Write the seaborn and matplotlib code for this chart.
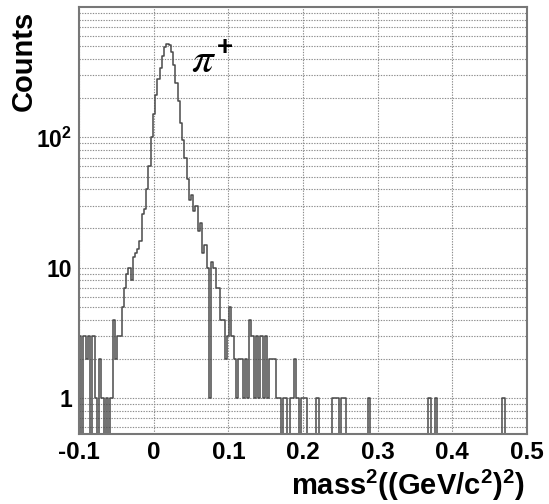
import numpy as np
import pandas as pd
import matplotlib
matplotlib.use("Agg")
import matplotlib.pyplot as plt
import seaborn as sns
from matplotlib.ticker import LogLocator, MultipleLocator, NullFormatter, FixedLocator, FixedFormatter

# ---------------- data ----------------
x_min, x_max, n_bins = -0.1, 0.5, 200
counts = [
    3, 0, 3, 2, 3, 0, 3, 1, 0, 2,
    1, 0, 1, 0, 1, 4, 2, 3, 3, 5,
    7, 9, 10, 8, 12, 13, 14, 16, 26, 28,
    40, 60, 100, 150, 210, 280, 340, 420, 490, 520,
    510, 450, 360, 260, 190, 130, 95, 70, 48, 33,
    36, 27, 30, 19, 22, 13, 15, 10, 1, 11,
    10, 7, 7, 4, 4, 2, 3, 5, 3, 2,
    1, 2, 2, 1, 2, 1, 4, 3, 1, 3,
    1, 3, 1, 3, 1, 2, 2, 2, 1, 1,
    0, 1, 1, 0, 1, 1, 2, 1, 0, 1,
    1, 1, 0, 0, 0, 0, 1, 0, 0, 0,
    0, 0, 0, 1, 1, 1, 0, 1, 1, 0,
    0, 0, 0, 0, 0, 0, 0, 0, 0, 1,
    0, 0, 0, 0, 0, 0, 0, 0, 0, 0,
    0, 0, 0, 0, 0, 0, 0, 0, 0, 0,
    0, 0, 0, 0, 0, 0, 1, 0, 0, 1,
    0, 0, 0, 0, 0, 0, 0, 0, 0, 0,
    0, 0, 0, 0, 0, 0, 0, 0, 0, 0,
    0, 0, 0, 0, 0, 0, 0, 0, 0, 1,
    0, 0, 0, 0, 0, 0, 0, 0, 0, 0,
]
x_ticks = [-0.1, 0.0, 0.1, 0.2, 0.3, 0.4, 0.5]
x_tick_labels = ["-0.1", "0", "0.1", "0.2", "0.3", "0.4", "0.5"]
y_ticks = [1, 10, 100]
y_tick_labels = ["1", "10", r"$\mathbf{10^{2}}$"]
y_min, y_max = 0.53, 1000
x_label = r"$\mathbf{mass^{2}((GeV/c^{2})^{2})}$"
y_label = "Counts"
peak_symbol = r"$\pi$"
peak_charge = r"$\mathbf{+}$"

edges = [x_min + (x_max - x_min) * k / n_bins for k in range(n_bins + 1)]
centers = [0.5 * (edges[k] + edges[k + 1]) for k in range(n_bins)]
df = pd.DataFrame({"mass2": centers, "counts": counts})

# ---------------- style ----------------
sns.set_theme(style="white")
plt.rcParams["font.family"] = ["Liberation Sans", "DejaVu Sans"]
plt.rcParams["text.color"] = "black"
plt.rcParams["mathtext.fontset"] = "custom"
plt.rcParams["mathtext.rm"] = "Liberation Sans"
plt.rcParams["mathtext.bf"] = "Liberation Sans:bold"
plt.rcParams["mathtext.it"] = "Liberation Sans:italic"

W, H = 549, 504
fig = plt.figure(figsize=(W / 100, H / 100), dpi=100)
L, R, T, B = 79, 527, 7, 434
ax = fig.add_axes([L / W, 1 - B / H, (R - L) / W, (B - T) / H])

sns.histplot(data=df, x="mass2", weights="counts", bins=edges,
             element="step", fill=False, color="#4a4a4a",
             linewidth=1.1, ax=ax)

ax.set_yscale("log")
ax.set_xlim(x_min, x_max)
ax.set_ylim(y_min, y_max)

ax.xaxis.set_major_locator(FixedLocator(x_ticks))
ax.xaxis.set_major_formatter(FixedFormatter(x_tick_labels))
ax.xaxis.set_minor_locator(MultipleLocator(0.02))
ax.yaxis.set_major_locator(FixedLocator(y_ticks))
ax.yaxis.set_major_formatter(FixedFormatter(y_tick_labels))
ax.yaxis.set_minor_locator(LogLocator(base=10, subs=range(2, 10), numticks=20))
ax.yaxis.set_minor_formatter(NullFormatter())

grid_kw = dict(color="#8c8c8c", linewidth=0.8, linestyle=(0, (1.2, 1.2)))
ax.set_axisbelow(True)
ax.grid(which="major", axis="x", **grid_kw)
ax.grid(which="both", axis="y", **grid_kw)

tick_col = "#777777"
ax.tick_params(axis="both", which="both", direction="in", top=False, right=False,
               color=tick_col, width=1.0, labelcolor="black")
ax.tick_params(axis="x", which="major", length=9, pad=5, labelsize=17.5)
ax.tick_params(axis="x", which="minor", length=4.5)
ax.tick_params(axis="y", which="major", length=10, pad=5, labelsize=16.5)
ax.tick_params(axis="y", which="minor", length=5)
for lab in ax.get_xticklabels() + ax.get_yticklabels():
    lab.set_fontweight("bold")

for s in ax.spines.values():
    s.set_color(tick_col)
    s.set_linewidth(1.5)

ax.set_xlabel("")
ax.set_ylabel("")

fig.text(525 / W, 1 - 485 / H, x_label, ha="right", va="center",
         fontsize=21, color="black")
fig.text(24 / W, 1 - 11 / H, y_label, rotation=90, ha="center", va="top",
         fontsize=21, fontweight="bold", color="black")
ax.text(0.0505, 320, peak_symbol, fontsize=31, math_fontfamily="stix",
        ha="left", va="baseline", color="black")
ax.text(0.0835, 500, peak_charge, fontsize=20,
        ha="left", va="center", color="black")

fig.savefig("out.png", dpi=100)
